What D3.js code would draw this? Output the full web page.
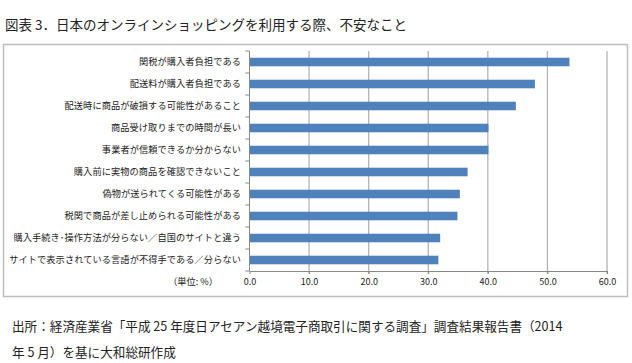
<!DOCTYPE html>
<html><head><meta charset="utf-8">
<script src="https://cdn.jsdelivr.net/npm/d3@7/dist/d3.min.js"></script>
<style>
body{margin:0;background:#fff;}
text{font-family:"Noto Sans CJK JP","Noto Sans",sans-serif;}
</style></head>
<body><svg id="c" width="632" height="363"></svg>
<script>
const categories = [
  "関税が購入者負担である",
  "配送料が購入者負担である",
  "配送時に商品が破損する可能性があること",
  "商品受け取りまでの時間が長い",
  "事業者が信頼できるか分からない",
  "購入前に実物の商品を確認できないこと",
  "偽物が送られてくる可能性がある",
  "税関で商品が差し止められる可能性がある",
  "購入手続き･操作方法が分らない／自国のサイトと違う",
  "サイトで表示されている言語が不得手である／分らない"
];
const values = [53.7, 47.9, 44.7, 40.1, 40.1, 36.6, 35.3, 34.9, 32.0, 31.7];
const xTicks = [0, 10, 20, 30, 40, 50, 60];
const title = "図表 3．日本のオンラインショッピングを利用する際、不安なこと";
const unitLabel = "（単位: %）";
const source1 = "出所：経済産業省「平成 25 年度日アセアン越境電子商取引に関する調査」調査結果報告書（2014";
const source2 = "年 5 月）を基に大和総研作成";

const svg = d3.select("#c");
const L = 249.5, R = 607, T = 51, B = 271;

svg.append("text").attr("x", 5).attr("y", 30).attr("font-size", 13.5).attr("fill", "#222").text(title);

// chart frame
svg.append("rect").attr("x", 3.5).attr("y", 44.5).attr("width", 624).attr("height", 252)
  .attr("fill", "#fff").attr("stroke", "#bdbdbd").attr("stroke-width", 1.5);

const x = d3.scaleLinear().domain([0, 60]).range([L, R]);
const y = d3.scaleBand().domain(categories).range([T, B]).paddingInner(0.61).paddingOuter(0.305);

// gridlines
svg.append("g").selectAll("line").data(xTicks.slice(1)).join("line")
  .attr("x1", d => x(d)).attr("x2", d => x(d)).attr("y1", T).attr("y2", B + 3)
  .attr("stroke", "#b4b4b4").attr("stroke-width", 1.3);

// bars
svg.append("g").selectAll("rect").data(values).join("rect")
  .attr("x", x(0)).attr("y", (d, i) => y(categories[i]))
  .attr("width", d => x(d) - x(0)).attr("height", y.bandwidth())
  .attr("fill", "#4f81bd");

// x axis
const xa = svg.append("g").attr("transform", `translate(0,${B})`)
  .call(d3.axisBottom(x).tickValues(xTicks).tickFormat(d3.format(".1f")).tickSize(3).tickSizeOuter(0));
xa.select(".domain").attr("stroke", "#888");
xa.selectAll(".tick line").attr("stroke", "#888");
xa.selectAll("text").attr("font-size", 9).attr("fill", "#222").attr("dy", "0.9em");

// y axis
const step = (B - T) / categories.length;
svg.append("line").attr("x1", L).attr("x2", L).attr("y1", T).attr("y2", B).attr("stroke", "#888");
svg.append("g").selectAll("line").data(d3.range(categories.length + 1)).join("line")
  .attr("x1", L - 4).attr("x2", L).attr("y1", i => T + i * step).attr("y2", i => T + i * step)
  .attr("stroke", "#888");
svg.append("g").selectAll("text").data(categories).join("text")
  .attr("x", 241).attr("y", d => y(d) + y.bandwidth() / 2).attr("dy", "0.36em")
  .attr("text-anchor", "end").attr("font-size", 9.2).attr("letter-spacing", 0.1).attr("fill", "#222").text(d => d);

svg.append("text").attr("x", 218).attr("y", 285).attr("text-anchor", "end").attr("font-size", 9.2).attr("fill", "#222").text(unitLabel);

svg.append("text").attr("x", 12).attr("y", 331).attr("font-size", 12.6).attr("fill", "#222").text(source1);
svg.append("text").attr("x", 12).attr("y", 357).attr("font-size", 12.6).attr("fill", "#222").text(source2);
</script></body></html>
